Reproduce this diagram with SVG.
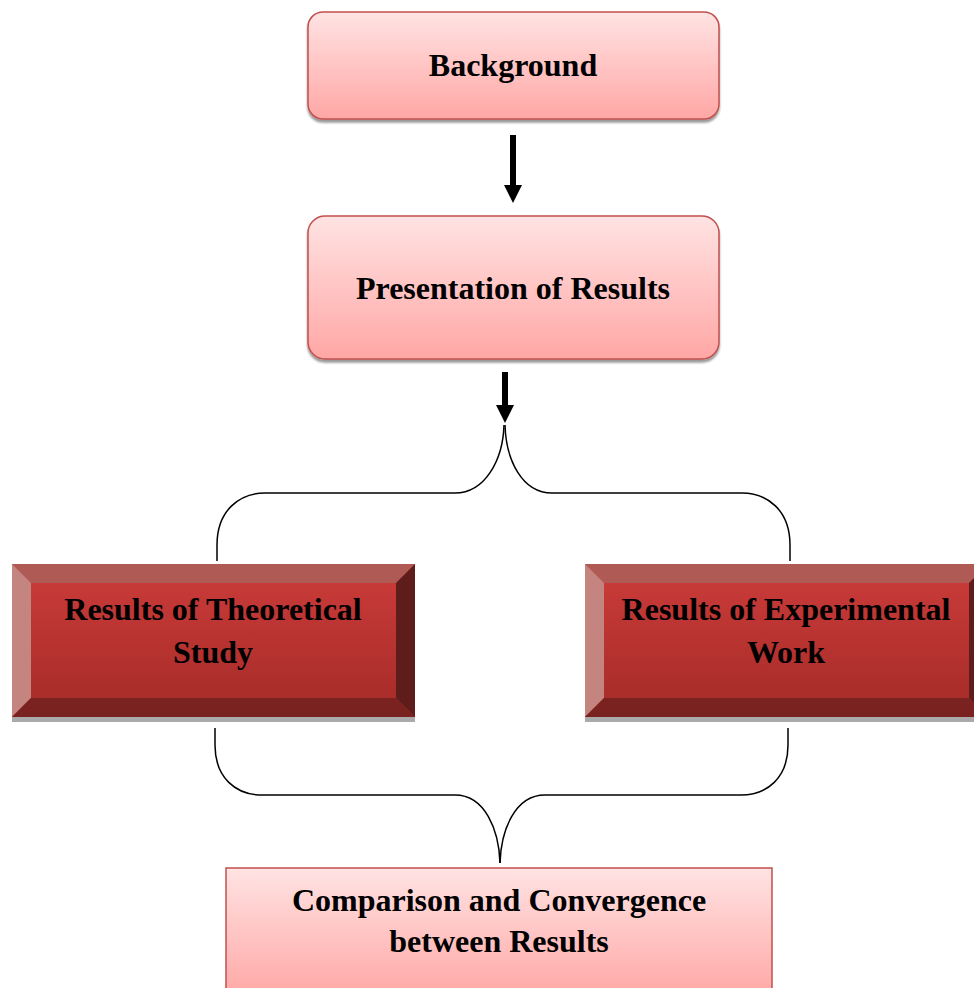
<svg xmlns="http://www.w3.org/2000/svg" width="974" height="988" viewBox="0 0 974 988">
<defs>
<linearGradient id="pink" x1="0" y1="0" x2="0" y2="1">
<stop offset="0" stop-color="#FFE3E3"/>
<stop offset="1" stop-color="#FFA7A5"/>
</linearGradient>
<linearGradient id="red" x1="0" y1="0" x2="0" y2="1">
<stop offset="0" stop-color="#CC3C3A"/>
<stop offset="1" stop-color="#A42B28"/>
</linearGradient>
<filter id="sh" x="-5%" y="-10%" width="110%" height="130%">
<feGaussianBlur in="SourceAlpha" stdDeviation="1.2"/>
<feOffset dx="0" dy="3" result="b"/>
<feFlood flood-color="#000" flood-opacity="0.4"/>
<feComposite in2="b" operator="in"/>
<feMerge><feMergeNode/><feMergeNode in="SourceGraphic"/></feMerge>
</filter>
<marker id="ah" viewBox="0 0 18 18" refX="0" refY="9" markerUnits="userSpaceOnUse" markerWidth="18" markerHeight="18" orient="auto">
<path d="M0,0 L18,9 L0,18 Z" fill="#000"/>
</marker>
</defs>
<style>
text{font-family:"Liberation Serif","Times New Roman",serif;font-weight:bold;font-size:32px;fill:#000;text-anchor:middle}
.lt{fill:url(#pink);stroke:#C0504D;stroke-width:1.5}
.face{fill:url(#red)}
.bt{fill:#B05A56}.bl{fill:#C48580}.br{fill:#5E1C1A}.bb{fill:#7A2220}
.sd{fill:#AAAAAA}
.conn path{fill:none;stroke:#000;stroke-width:1.5}
.arr{stroke:#000;stroke-width:6;fill:none}
</style>

<g id="background">
<rect class="lt" x="308" y="12" width="411" height="107" rx="15" filter="url(#sh)"/>
<text x="513" y="76">Background</text>
</g>

<g id="presentation">
<rect class="lt" x="308" y="216" width="411" height="143" rx="17" filter="url(#sh)"/>
<text x="513" y="299">Presentation of Results</text>
</g>

<g id="theoretical">
<rect class="sd" x="12" y="717" width="403" height="5"/>
<rect class="face" x="12" y="564" width="403" height="153"/>
<polygon class="bt" points="12,564 415,564 396,583 31,583"/>
<polygon class="bl" points="12,564 31,583 31,698 12,717"/>
<polygon class="br" points="415,564 415,717 396,698 396,583"/>
<polygon class="bb" points="12,717 31,698 396,698 415,717"/>
<text x="213" y="620">Results of Theoretical</text>
<text x="213" y="663">Study</text>
</g>

<g id="experimental">
<rect class="sd" x="585" y="717" width="403" height="5"/>
<rect class="face" x="585" y="564" width="403" height="153"/>
<polygon class="bt" points="585,564 988,564 969,583 604,583"/>
<polygon class="bl" points="585,564 604,583 604,698 585,717"/>
<polygon class="br" points="988,564 988,717 969,698 969,583"/>
<polygon class="bb" points="585,717 604,698 969,698 988,717"/>
<text x="786" y="620">Results of Experimental</text>
<text x="786" y="663">Work</text>
</g>

<g id="comparison">
<rect class="lt" x="226" y="868" width="546" height="130"/>
<text x="499" y="911">Comparison and Convergence</text>
<text x="499" y="952">between Results</text>
</g>

<g id="connectors" class="conn">
<line class="arr" x1="513" y1="135" x2="513" y2="185" marker-end="url(#ah)"/>
<line class="arr" x1="505" y1="372" x2="505" y2="405" marker-end="url(#ah)"/>
<path d="M217,561 L217,545 C217,510 240,493 265,493 L455,493 C485,493 503,460 504,425"/>
<path d="M790,561 L790,545 C790,510 767,493 742,493 L552,493 C522,493 506,460 505,425"/>
<path d="M215,728 L215,745 C215,778 236,795 262,795 L455,795 C485,795 499,830 500,863"/>
<path d="M788,728 L788,745 C788,778 767,795 741,795 L545,795 C515,795 501,830 500,863"/>
</g>
</svg>
